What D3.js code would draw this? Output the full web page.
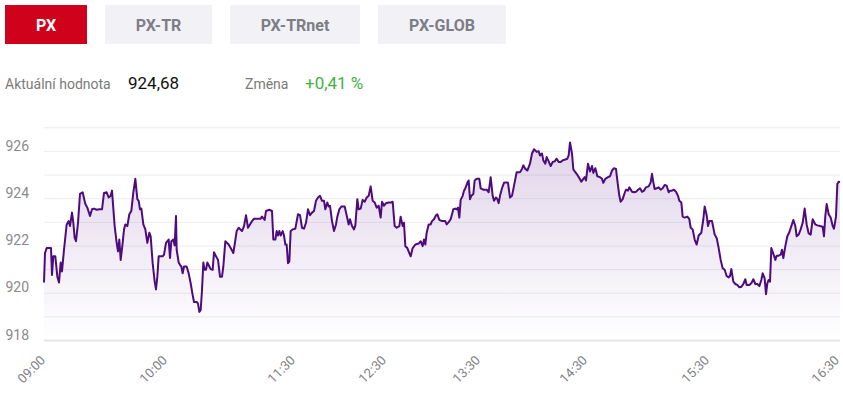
<!DOCTYPE html>
<html>
<head>
<meta charset="utf-8">
<script src="https://cdn.jsdelivr.net/npm/d3@7/dist/d3.min.js"></script>
<style>
  html, body { margin: 0; padding: 0; background: #fff; }
  svg { display: block; font-family: Roboto, "Noto Sans", sans-serif; }
</style>
</head>
<body>
<svg id="chart" width="843" height="399"></svg>
<script>
// ---- data ----
const tabLabels = ["PX", "PX-TR", "PX-TRnet", "PX-GLOB"];
const activeTab = "PX";
const currentLabel = "Aktuální hodnota";
const currentValue = "924,68";
const changeLabel = "Změna";
const changeValue = "+0,41 %";

const yTickValues = [918, 920, 922, 924, 926];
const yGridValues = [918, 919, 920, 921, 922, 923, 924, 925, 926, 927];
const xTickLabels = ["09:00", "10:00", "11:30", "12:30", "13:30", "14:30", "15:30", "16:30"];
const xTickIndex = [0, 366, 750, 1023, 1305, 1626, 1992, 2382];

// [sample index on the ordinal time axis, index value]
const pxSeries = [
[0,920.43],[3,921.68],[8,921.89],[21,921.89],[24,920.75],[28,921.54],[34,921.54],[40,920.68],[45,920.43],[50,921.28],
[54,920.90],[60,921.82],[68,922.89],[74,923.03],[78,922.82],[84,923.39],[88,922.96],[92,922.32],[96,922.18],[102,922.96],
[108,924.18],[116,924.25],[124,923.75],[130,923.60],[138,923.25],[144,923.53],[150,923.56],[158,923.51],[166,923.53],[174,923.53],
[180,924.22],[188,924.25],[194,924.03],[200,924.10],[204,924.32],[212,922.82],[218,922.11],[222,921.75],[226,922.25],[230,921.39],
[236,922.11],[240,922.68],[244,922.89],[250,922.82],[256,923.32],[262,923.46],[268,924.25],[274,924.82],[280,923.96],[284,923.89],
[288,923.53],[292,923.56],[298,922.89],[304,922.68],[310,922.11],[316,922.54],[320,922.39],[326,921.25],[332,920.47],[336,920.14],
[340,920.68],[344,921.54],[350,921.54],[356,921.54],[360,921.61],[366,922.11],[374,922.25],[378,921.47],[382,922.18],[388,922.25],
[392,922.00],[396,923.25],[398,921.82],[404,921.28],[408,921.18],[412,921.11],[416,920.82],[420,921.11],[428,921.11],[434,920.82],
[440,920.40],[446,919.90],[450,919.61],[458,919.61],[462,919.54],[466,919.19],[470,919.26],[474,920.11],[478,921.28],[482,920.97],
[486,920.97],[490,921.28],[496,921.11],[500,921.00],[506,920.97],[510,921.71],[516,921.54],[522,921.39],[528,920.68],[534,920.68],
[538,921.11],[544,922.18],[554,922.04],[560,921.89],[568,921.68],[572,922.04],[578,922.61],[584,922.75],[594,922.61],[600,922.82],
[606,923.28],[612,922.75],[618,922.89],[624,923.03],[630,923.13],[638,923.13],[650,923.13],[654,923.22],[662,923.08],[666,923.46],
[676,923.51],[684,923.46],[688,922.25],[694,922.25],[698,922.61],[702,922.42],[706,922.61],[710,922.42],[716,922.61],[720,922.42],
[724,922.04],[728,922.04],[732,921.25],[736,921.32],[740,922.61],[746,922.68],[754,922.71],[762,923.32],[768,923.28],[774,922.75],
[780,922.71],[786,922.96],[792,923.53],[798,923.28],[804,923.39],[810,923.46],[816,923.89],[822,924.03],[828,924.10],[834,923.89],
[840,923.89],[844,923.53],[850,923.82],[854,923.65],[858,923.68],[864,923.03],[870,922.61],[876,922.89],[880,923.22],[886,923.53],
[892,923.65],[902,923.65],[908,923.28],[914,922.89],[918,923.11],[924,922.82],[930,922.68],[934,922.85],[940,923.96],[944,923.53],
[950,923.56],[956,923.93],[962,923.85],[968,924.03],[974,924.10],[980,924.50],[986,923.89],[992,923.82],[998,923.60],[1004,923.68],
[1010,923.18],[1014,923.85],[1020,923.68],[1026,923.79],[1034,923.82],[1042,923.82],[1046,923.85],[1052,922.82],[1058,922.75],[1066,922.82],
[1070,923.22],[1076,922.82],[1080,922.96],[1084,921.97],[1090,921.89],[1096,921.68],[1100,921.54],[1106,921.89],[1114,922.04],[1124,922.08],
[1130,922.18],[1136,921.97],[1140,922.25],[1144,922.04],[1148,922.54],[1154,922.89],[1160,922.89],[1164,923.03],[1170,923.11],[1176,923.28],
[1180,923.32],[1186,923.08],[1194,923.03],[1204,923.03],[1208,922.89],[1214,922.99],[1220,923.11],[1224,923.32],[1228,923.53],[1234,923.56],
[1238,923.53],[1242,923.60],[1246,923.18],[1250,923.93],[1256,924.10],[1260,924.32],[1264,924.42],[1270,924.65],[1274,924.75],[1278,923.96],
[1282,924.10],[1288,924.18],[1292,924.75],[1298,924.82],[1306,924.82],[1310,924.42],[1318,924.36],[1328,924.36],[1334,924.25],[1340,924.89],
[1346,924.10],[1350,923.89],[1356,924.03],[1360,923.96],[1364,923.79],[1368,924.10],[1374,924.42],[1380,924.65],[1386,924.67],[1392,924.65],
[1398,924.03],[1404,924.10],[1412,924.67],[1418,925.10],[1428,925.10],[1434,925.24],[1438,925.39],[1444,925.24],[1450,925.17],[1458,925.46],
[1464,925.89],[1470,926.07],[1478,925.96],[1484,925.99],[1488,925.81],[1494,925.89],[1498,925.60],[1504,925.46],[1508,925.74],[1514,925.56],
[1520,925.36],[1526,925.53],[1532,925.56],[1538,925.67],[1544,925.53],[1550,925.53],[1556,925.60],[1564,925.64],[1570,925.67],[1574,925.81],
[1578,926.36],[1584,925.89],[1588,925.22],[1594,925.10],[1600,924.99],[1606,924.85],[1612,924.70],[1618,924.82],[1622,924.89],[1626,924.75],
[1632,925.46],[1638,925.13],[1644,925.36],[1648,925.07],[1654,925.27],[1660,924.93],[1668,924.89],[1674,924.82],[1678,924.65],[1684,924.82],
[1692,924.89],[1698,924.93],[1704,925.17],[1710,925.27],[1716,925.24],[1720,924.75],[1726,924.10],[1730,923.85],[1736,923.96],[1742,924.22],
[1746,924.36],[1752,924.32],[1756,924.46],[1758,924.42],[1764,924.27],[1770,924.25],[1776,924.27],[1782,924.36],[1788,924.42],[1794,924.27],
[1800,924.32],[1806,924.46],[1814,924.50],[1820,924.67],[1824,925.03],[1828,924.67],[1832,924.39],[1838,924.42],[1844,924.46],[1850,924.36],
[1856,924.42],[1862,924.56],[1868,924.53],[1874,924.25],[1878,924.32],[1884,924.32],[1890,924.36],[1896,924.27],[1902,924.10],[1906,923.89],
[1912,923.82],[1916,923.22],[1922,923.18],[1930,923.22],[1936,923.11],[1940,922.75],[1946,922.68],[1952,922.25],[1958,922.04],[1964,922.42],
[1972,922.54],[1978,923.11],[1982,923.65],[1988,923.28],[1992,922.82],[1996,923.03],[2004,923.03],[2008,922.75],[2012,922.46],[2018,922.32],
[2024,921.89],[2030,921.39],[2036,921.04],[2042,920.97],[2048,920.71],[2054,920.65],[2058,920.71],[2062,921.00],[2068,920.47],[2074,920.37],
[2080,920.33],[2086,920.23],[2092,920.25],[2098,920.37],[2104,920.57],[2108,920.33],[2116,920.33],[2122,920.40],[2128,920.57],[2134,920.37],
[2140,920.37],[2146,920.28],[2152,920.54],[2156,920.82],[2162,920.61],[2166,919.94],[2170,920.40],[2174,920.54],[2178,920.47],[2182,921.89],
[2188,921.65],[2194,921.39],[2198,921.57],[2204,921.57],[2210,921.61],[2214,921.82],[2218,921.47],[2224,921.97],[2230,922.39],[2236,922.56],
[2242,922.82],[2248,923.08],[2254,922.82],[2258,922.39],[2264,922.46],[2270,922.68],[2276,922.96],[2282,923.56],[2288,922.89],[2294,922.51],
[2300,922.46],[2306,923.11],[2314,922.89],[2320,922.85],[2328,922.82],[2336,922.79],[2340,922.39],[2344,923.25],[2348,923.75],[2354,923.32],
[2360,923.18],[2366,922.82],[2370,922.71],[2376,923.22],[2380,924.60],[2384,924.70],[2388,924.68]
];

// ---- drawing ----
const svg = d3.select("#chart");

// tabs
const tabX = d3.scaleOrdinal().domain(tabLabels).range([5, 105, 230, 378]);
const tabW = d3.scaleOrdinal().domain(tabLabels).range([82, 107, 130, 128]);
const tabs = svg.append("g").selectAll("g").data(tabLabels).join("g")
  .attr("transform", d => `translate(${tabX(d)},5)`);
tabs.append("rect")
  .attr("width", d => tabW(d)).attr("height", 39)
  .attr("fill", d => d === activeTab ? "#d0021b" : "#f2f2f6");
tabs.append("text")
  .attr("x", d => tabW(d) / 2).attr("y", 25.5)
  .attr("text-anchor", "middle")
  .attr("font-size", 16).attr("font-weight", 700)
  .attr("fill", d => d === activeTab ? "#ffffff" : "#7d7d85")
  .text(d => d);

// value row
const info = svg.append("g");
info.append("text").attr("x", 5).attr("y", 89).attr("font-size", 14).attr("fill", "#7a7a7a").text(currentLabel);
info.append("text").attr("x", 128).attr("y", 89).attr("font-size", 17).attr("fill", "#111").text(currentValue);
info.append("text").attr("x", 245).attr("y", 89).attr("font-size", 14).attr("fill", "#7a7a7a").text(changeLabel);
info.append("text").attr("x", 305).attr("y", 89).attr("font-size", 17).attr("fill", "#3fb33f").text(changeValue);

// scales
const x = d3.scaleLinear().domain([0, 2388]).range([44, 840]);
const y = d3.scaleLinear().domain([918, 927]).range([340, 127.3]);

// grid
svg.append("g").selectAll("line").data(yGridValues).join("line")
  .attr("x1", 44).attr("x2", 840)
  .attr("y1", d => y(d) + 0.5).attr("y2", d => y(d) + 0.5)
  .attr("stroke", d => d === 918 ? "#e6e6ea" : "#ececf0").attr("stroke-width", d => d === 918 ? 2 : 1);

// y labels
svg.append("g").selectAll("text").data(yTickValues).join("text")
  .attr("x", 29).attr("y", d => y(d) - 0.3)
  .attr("text-anchor", "end")
  .attr("font-size", 14).attr("fill", "#8a8a8e")
  .text(d => d);

// gradient
const defs = svg.append("defs");
const grad = defs.append("linearGradient").attr("id", "fillGrad")
  .attr("gradientUnits", "userSpaceOnUse")
  .attr("x1", 0).attr("x2", 0).attr("y1", y(927)).attr("y2", y(918));
grad.append("stop").attr("offset", 0).attr("stop-color", "#5b1a8c").attr("stop-opacity", 0.2);
grad.append("stop").attr("offset", 1).attr("stop-color", "#5b1a8c").attr("stop-opacity", 0.0);

const area = d3.area().x(d => x(d[0])).y0(y(918)).y1(d => y(d[1]));
const line = d3.line().x(d => x(d[0])).y(d => y(d[1]));

svg.append("path").datum(pxSeries).attr("d", area).attr("fill", "url(#fillGrad)");
svg.append("path").datum(pxSeries).attr("d", line)
  .attr("fill", "none").attr("stroke", "#4e0b7e").attr("stroke-width", 2)
  .attr("stroke-linejoin", "round");

// x labels
svg.append("g").selectAll("text").data(xTickLabels).join("text")
  .attr("transform", (d, i) => `translate(${x(xTickIndex[i]) + 2},361) rotate(-45)`)
  .attr("text-anchor", "end")
  .attr("font-size", 13).attr("fill", "#808085")
  .text(d => d);
</script>
</body>
</html>
